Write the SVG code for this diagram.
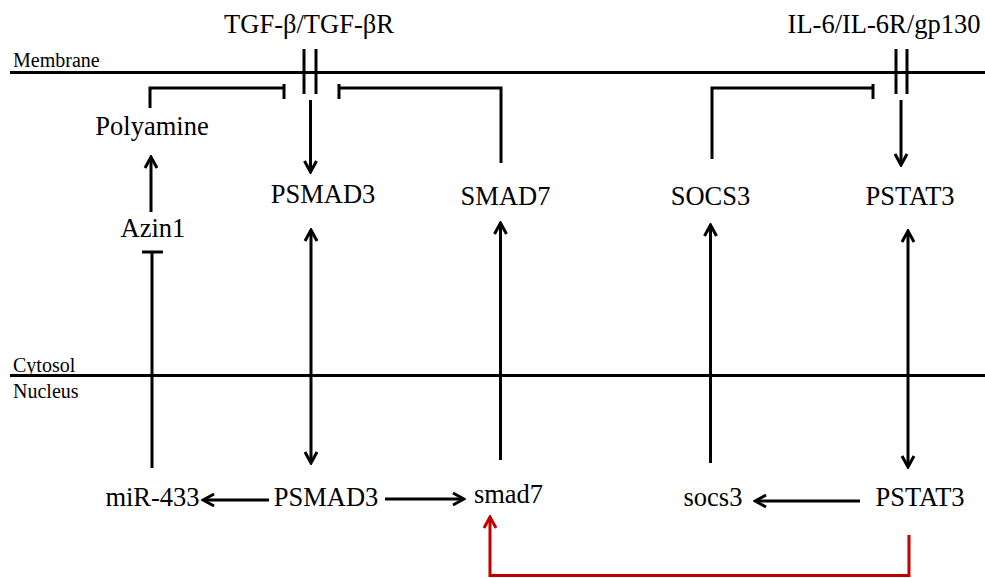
<svg xmlns="http://www.w3.org/2000/svg" width="985" height="578" viewBox="0 0 985 578">
<style>
.lbl{font-family:'Liberation Serif','DejaVu Serif','Times New Roman',serif;font-size:26.5px;fill:#000;text-anchor:middle}
.sm{font-family:'Liberation Serif','DejaVu Serif','Times New Roman',serif;font-size:20px;fill:#000}
.ln{stroke:#000;stroke-width:3;fill:none}
.red{stroke:#c00000;stroke-width:3;fill:none}
</style>
<defs>
<marker id="ah" viewBox="-14 -8 16 16" refX="-2" refY="0" markerWidth="16" markerHeight="16" markerUnits="userSpaceOnUse" orient="auto-start-reverse">
<path d="M-11,-6 L0,0 L-11,6" fill="none" stroke="#000" stroke-width="3"/>
</marker>
<marker id="ahr" viewBox="-14 -8 16 16" refX="-2" refY="0" markerWidth="16" markerHeight="16" markerUnits="userSpaceOnUse" orient="auto-start-reverse">
<path d="M-11,-6 L0,0 L-11,6" fill="none" stroke="#c00000" stroke-width="3"/>
</marker>
</defs>
<rect width="985" height="578" fill="#fff"/>
<g id="compartments">
<line class="ln" x1="10" y1="72.5" x2="985" y2="72.5"/>
<line class="ln" x1="10" y1="375.5" x2="985" y2="375.5"/>
<text class="sm" x="13" y="66.5" font-family="Liberation Serif, serif">Membrane</text>
<text class="sm" x="13" y="371.5" font-family="Liberation Serif, serif">Cytosol</text>
<text class="sm" x="13" y="398" font-family="Liberation Serif, serif">Nucleus</text>
</g>
<g id="tgf-receptor">
<text class="lbl" x="309" y="33">TGF-β/TGF-βR</text>
<line class="ln" x1="304" y1="49" x2="304" y2="94"/>
<line class="ln" x1="316" y1="49" x2="316" y2="94"/>
</g>
<g id="il6-receptor">
<text class="lbl" x="884" y="33">IL-6/IL-6R/gp130</text>
<line class="ln" x1="896" y1="49" x2="896" y2="94"/>
<line class="ln" x1="907" y1="49" x2="907" y2="94"/>
</g>
<g id="polyamine"><text class="lbl" x="152" y="135">Polyamine</text></g>
<g id="azin1"><text class="lbl" x="153" y="237">Azin1</text></g>
<g id="psmad3-cyto"><text class="lbl" x="323" y="203">PSMAD3</text></g>
<g id="smad7-cyto"><text class="lbl" x="505.5" y="205">SMAD7</text></g>
<g id="socs3-cyto"><text class="lbl" x="710.5" y="205">SOCS3</text></g>
<g id="pstat3-cyto"><text class="lbl" x="910" y="205">PSTAT3</text></g>
<g id="mir433"><text class="lbl" x="152.5" y="506">miR-433</text></g>
<g id="psmad3-nuc"><text class="lbl" x="326" y="506">PSMAD3</text></g>
<g id="smad7-nuc"><text class="lbl" x="508.5" y="503">smad7</text></g>
<g id="socs3-nuc"><text class="lbl" x="713" y="506">socs3</text></g>
<g id="pstat3-nuc"><text class="lbl" x="920" y="506">PSTAT3</text></g>
<g id="connectors">
<polyline class="ln" points="150,108 150,88 284,88"/>
<line class="ln" x1="284" y1="84" x2="284" y2="99"/>
<polyline class="ln" points="501,163 501,88 339,88"/>
<line class="ln" x1="339" y1="84" x2="339" y2="99"/>
<polyline class="ln" points="712,159 712,88 873,88"/>
<line class="ln" x1="873" y1="84" x2="873" y2="99"/>
<line class="ln" x1="310.5" y1="100" x2="310.5" y2="170" marker-end="url(#ah)"/>
<line class="ln" x1="901" y1="100" x2="901" y2="163" marker-end="url(#ah)"/>
<line class="ln" x1="151" y1="212" x2="151" y2="159" marker-end="url(#ah)"/>
<line class="ln" x1="152" y1="468" x2="152" y2="252"/>
<line class="ln" x1="142" y1="252" x2="163" y2="252"/>
<line class="ln" x1="311" y1="232" x2="311" y2="461" marker-start="url(#ah)" marker-end="url(#ah)"/>
<line class="ln" x1="500.5" y1="460" x2="500.5" y2="225" marker-end="url(#ah)"/>
<line class="ln" x1="710.5" y1="463" x2="710.5" y2="227" marker-end="url(#ah)"/>
<line class="ln" x1="908" y1="233" x2="908" y2="465" marker-start="url(#ah)" marker-end="url(#ah)"/>
<line class="ln" x1="269" y1="500" x2="205" y2="500" marker-end="url(#ah)"/>
<line class="ln" x1="385" y1="499" x2="462" y2="499" marker-end="url(#ah)"/>
<line class="ln" x1="860" y1="501" x2="757" y2="501" marker-end="url(#ah)"/>
<polyline class="red" points="909,535 909,575.5 490,575.5 490,519" marker-end="url(#ahr)"/>
</g>
</svg>
